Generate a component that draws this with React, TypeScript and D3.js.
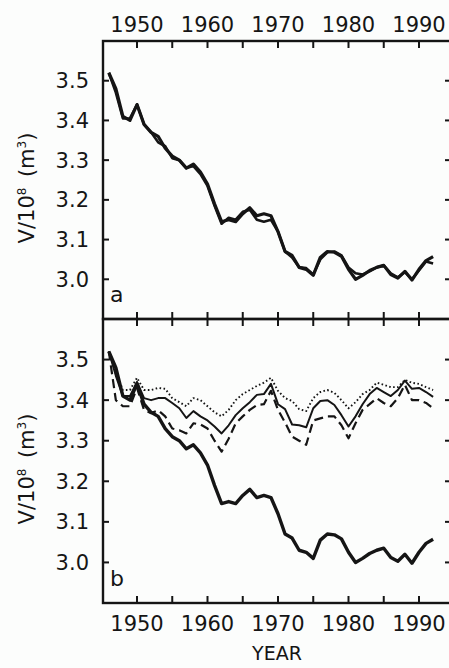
import React, { useRef, useEffect } from 'react';
import * as d3 from 'd3';

// years of record
const years = d3.range(1946, 1993);

// panel a + b thick line (measured volume)
const observed = [
  3.52, 3.48, 3.41, 3.4, 3.44, 3.39, 3.37, 3.36, 3.33, 3.31,
  3.3, 3.28, 3.29, 3.27, 3.24, 3.19, 3.145, 3.15, 3.145, 3.165,
  3.18, 3.16, 3.165, 3.16, 3.12, 3.07, 3.06, 3.03, 3.025, 3.01,
  3.055, 3.07, 3.068, 3.058, 3.025, 3.0, 3.01, 3.022, 3.03, 3.035,
  3.012, 3.003, 3.02, 2.998, 3.025, 3.047, 3.057,
];
// panel a second line (modelled)
const modelled = [
  3.52, 3.47, 3.405, 3.405, 3.44, 3.39, 3.37, 3.345, 3.335, 3.305,
  3.3, 3.28, 3.285, 3.265, 3.235, 3.185, 3.14, 3.155, 3.15, 3.17,
  3.175, 3.15, 3.145, 3.15, 3.12, 3.07, 3.055, 3.03, 3.028, 3.012,
  3.05, 3.068, 3.07, 3.06, 3.03, 3.015, 3.012, 3.02, 3.03, 3.035,
  3.015, 3.005, 3.018, 3.0, 3.022, 3.045, 3.04,
];
// panel b scenario runs
const runSolid = [
  3.52, 3.46, 3.41, 3.41, 3.445, 3.405, 3.4, 3.405, 3.405, 3.393,
  3.38, 3.356, 3.373, 3.36, 3.35, 3.335, 3.318, 3.338, 3.363, 3.38,
  3.395, 3.413, 3.415, 3.44, 3.39, 3.378, 3.34, 3.338, 3.333, 3.38,
  3.398, 3.4, 3.388, 3.363, 3.335, 3.36, 3.39, 3.415, 3.43, 3.42,
  3.41, 3.425, 3.448, 3.428, 3.43, 3.42, 3.408,
];
const runDotted = [
  3.52, 3.47, 3.425, 3.425, 3.455, 3.425, 3.425, 3.43, 3.428, 3.405,
  3.395, 3.385, 3.405, 3.4, 3.385, 3.37, 3.36, 3.376, 3.4, 3.415,
  3.425, 3.435, 3.443, 3.455, 3.423, 3.405, 3.398, 3.378, 3.373, 3.405,
  3.42, 3.425, 3.418, 3.4, 3.38, 3.395, 3.415, 3.425, 3.443, 3.438,
  3.432, 3.432, 3.45, 3.443, 3.44, 3.432, 3.425,
];
const runDashed = [
  3.52, 3.4, 3.385, 3.385, 3.43, 3.376, 3.368, 3.375, 3.36, 3.33,
  3.326, 3.318, 3.343, 3.34, 3.33, 3.3, 3.273, 3.305, 3.343, 3.36,
  3.376, 3.388, 3.39, 3.423, 3.376, 3.345, 3.31, 3.3, 3.29, 3.35,
  3.355, 3.36, 3.36, 3.338, 3.306, 3.343, 3.376, 3.39, 3.405, 3.393,
  3.385, 3.405, 3.438, 3.4, 3.4, 3.393, 3.38,
];

const xTicks = d3.range(1950, 1995, 5);
const xLabels = [1950, 1960, 1970, 1980, 1990];
const yTicks = [3.0, 3.1, 3.2, 3.3, 3.4, 3.5];

function App() {
  const svgRef = useRef(null);

  useEffect(() => {
    const w = 449;
    const h = 668;
    const ink = '#151515';
    const font = 'DejaVu Sans, sans-serif';
    const svg = d3.select(svgRef.current);
    svg.selectAll('*').remove();
    svg.attr('width', w).attr('height', h).style('background', '#fcfdfc');

    const left = 103;
    const right = 451;
    const x = d3.scaleLinear().domain([1950, 1990]).range([137, 419]);

    const panels = [
      { top: 41, bottom: 319, tag: 'a', series: [
        { vals: observed, width: 3.2, dash: null },
        { vals: modelled, width: 2.6, dash: null },
      ] },
      { top: 319, bottom: 603, tag: 'b', series: [
        { vals: runDotted, width: 1.9, dash: '1.6,2.4' },
        { vals: runSolid, width: 2, dash: null },
        { vals: runDashed, width: 2.2, dash: '9,5' },
        { vals: observed, width: 3.4, dash: null },
      ] },
    ];

    panels.forEach((p) => {
      const y = d3.scaleLinear().domain([2.9, 3.6]).range([p.bottom, p.top]);
      const g = svg.append('g');

      // frame
      g.append('rect')
        .attr('x', left).attr('y', p.top)
        .attr('width', right - left).attr('height', p.bottom - p.top)
        .attr('fill', 'none').attr('stroke', ink).attr('stroke-width', 2.4);

      // x ticks on both edges, pointing in
      xTicks.forEach((t) => {
        g.append('line').attr('x1', x(t)).attr('x2', x(t))
          .attr('y1', p.top).attr('y2', p.top + 7)
          .attr('stroke', ink).attr('stroke-width', 2);
        g.append('line').attr('x1', x(t)).attr('x2', x(t))
          .attr('y1', p.bottom).attr('y2', p.bottom - 7)
          .attr('stroke', ink).attr('stroke-width', 2);
      });

      // y ticks + labels
      yTicks.forEach((t) => {
        g.append('line').attr('x1', left).attr('x2', left + 6)
          .attr('y1', y(t)).attr('y2', y(t))
          .attr('stroke', ink).attr('stroke-width', 2);
        g.append('line').attr('x1', right).attr('x2', right - 6)
          .attr('y1', y(t)).attr('y2', y(t))
          .attr('stroke', ink).attr('stroke-width', 2);
        g.append('text')
          .attr('x', 89).attr('y', y(t) + 7.5)
          .attr('text-anchor', 'end')
          .style('font-family', font).style('font-size', '21px')
          .attr('fill', ink)
          .text(t.toFixed(1));
      });

      // y title
      const yt = g.append('text')
        .attr('transform', `translate(34, ${(p.top + p.bottom) / 2 + 8}) rotate(-90)`)
        .attr('text-anchor', 'middle')
        .style('font-family', font).style('font-size', '21px')
        .attr('fill', ink);
      yt.append('tspan').text('V/10');
      yt.append('tspan').attr('dy', -8).style('font-size', '12px').text('8');
      yt.append('tspan').attr('dy', 8).text('\u2002(m');
      yt.append('tspan').attr('dy', -8).style('font-size', '12px').text('3');
      yt.append('tspan').attr('dy', 8).text(')');

      // panel letter
      g.append('text')
        .attr('x', 110).attr('y', p.bottom - 17)
        .style('font-family', font).style('font-size', '22px')
        .attr('fill', ink).text(p.tag);

      const line = d3.line<number>()
        .x((d, i) => x(years[i]))
        .y((d) => y(d))
        .curve(d3.curveLinear);

      p.series.forEach((s) => {
        g.append('path')
          .datum(s.vals)
          .attr('d', line)
          .attr('fill', 'none')
          .attr('stroke', ink)
          .attr('stroke-width', s.width)
          .attr('stroke-linejoin', 'round')
          .attr('stroke-dasharray', s.dash);
      });
    });

    // year labels, top and bottom
    xLabels.forEach((t) => {
      svg.append('text').attr('x', x(t)).attr('y', 32)
        .attr('text-anchor', 'middle')
        .style('font-family', font).style('font-size', '21px')
        .attr('fill', ink).text(t);
      svg.append('text').attr('x', x(t)).attr('y', 631)
        .attr('text-anchor', 'middle')
        .style('font-family', font).style('font-size', '21px')
        .attr('fill', ink).text(t);
    });

    svg.append('text').attr('x', 277).attr('y', 660)
      .attr('text-anchor', 'middle')
      .style('font-family', font).style('font-size', '19px')
      .attr('fill', ink).text('YEAR');
  }, []);

  return (
    <div style={{ position: 'absolute', left: 0, top: 0 }}>
      <svg ref={svgRef} style={{ display: 'block' }}></svg>
    </div>
  );
}

export default App;
